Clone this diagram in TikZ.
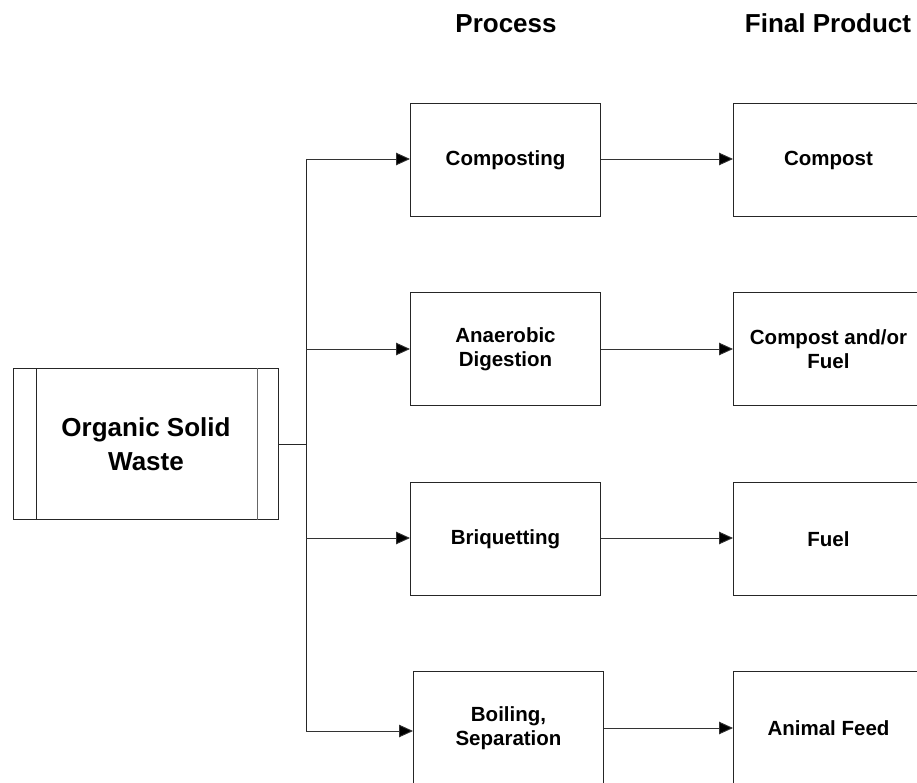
\documentclass[tikz,border=0pt]{standalone}
\usepackage{fontspec}
\setmainfont{Liberation Sans}
\usetikzlibrary{arrows.meta,calc}
\tikzset{
  procbox/.style={draw=black!85, line width=1pt, minimum width=190pt, minimum height=113pt,
    align=center, inner sep=0pt, anchor=north west,
    font=\bfseries\fontsize{20.5}{24}\selectfont},
  prodbox/.style={procbox},
  srcbox/.style={draw=black!85, line width=1pt, minimum width=265pt, minimum height=151pt,
    align=center, inner sep=0pt, anchor=north west,
    font=\bfseries\fontsize{26}{34}\selectfont},
  flow/.style={draw=black!80, line width=0.9pt, -{Triangle[length=14pt,width=12.5pt,fill=black]}},
  link/.style={draw=black!85, line width=1pt},
  heading/.style={anchor=base, inner sep=0pt, font=\bfseries\fontsize{26}{30}\selectfont},
}
\begin{document}
\begin{tikzpicture}[x=1pt,y=-1pt]
\useasboundingbox (0,0) rectangle (917,783);
\clip (0,0) rectangle (917,783);

% column headings
\node[heading] (hproc) at (506,33) {Process};
\node[heading] (hprod) at (828,33) {Final Product};

% source with its two side bars
\node[srcbox] (src) at (13,368) {Organic Solid\\Waste};
\draw[line width=1pt, black!85] ($(src.north west)+(23,0)$) -- ($(src.south west)+(23,0)$);
\draw[line width=1pt, black!60] ($(src.north east)+(-22,0)$) -- ($(src.south east)+(-22,0)$);

% process steps
\node[procbox] (p1) at (410,103) {Composting};
\node[procbox] (p2) at (410,292) {Anaerobic\\Digestion};
\node[procbox] (p3) at (410,482) {Briquetting};
\node[procbox] (p4) at (413,671) {Boiling,\\Separation};

% final products
\node[prodbox] (f1) at (733,103) {Compost};
\node[prodbox] (f2) at (733,292) {Compost and/or\\Fuel};
\node[prodbox] (f3) at (733,482) {Fuel};
\node[prodbox] (f4) at (733,671) {Animal Feed};

% distribution trunk
\coordinate (jmid) at (306,444);
\coordinate (j1) at (306,159);
\coordinate (j2) at (306,349);
\coordinate (j3) at (306,538);
\coordinate (j4) at (306,731);
\draw[link] (src.east |- jmid) -- (jmid);
\draw[link] (j1) -- (j4);

\draw[flow] (j1) -- (p1.west |- j1);
\draw[flow] (j2) -- (p2.west |- j2);
\draw[flow] (j3) -- (p3.west |- j3);
\draw[flow] (j4) -- (p4.west |- j4);

% process to product
\draw[flow] (p1.east |- j1) -- (f1.west |- j1);
\draw[flow] (p2.east |- j2) -- (f2.west |- j2);
\draw[flow] (p3.east |- j3) -- (f3.west |- j3);
\coordinate (k4) at (500,728);
\draw[flow] (p4.east |- k4) -- (f4.west |- k4);
\end{tikzpicture}
\end{document}
